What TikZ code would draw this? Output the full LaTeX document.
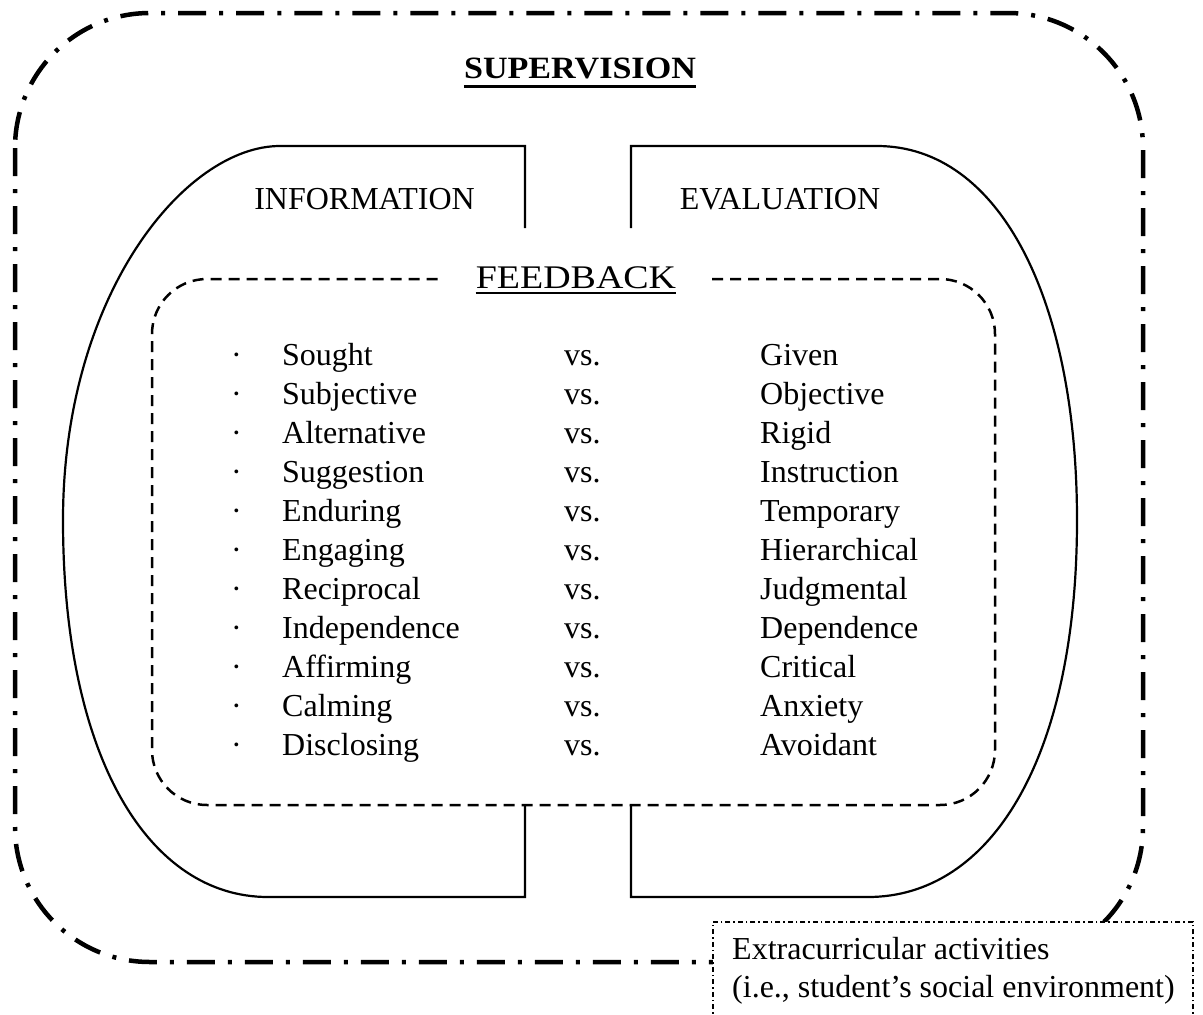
\documentclass[tikz,border=0pt]{standalone}
\usepackage{fontspec}
\setmainfont{Liberation Serif}
\usepackage{graphicx}
\begin{document}
\begin{tikzpicture}[x=1pt,y=-1pt,
  outerline/.style={line width=4.5pt, dash pattern=on 28pt off 13pt on 4pt off 13pt},
  solidline/.style={line width=2.2pt},
  dashline/.style={line width=2.5pt, dash pattern=on 11pt off 7pt},
  boxline/.style={line width=1.6pt, dash pattern=on 5pt off 3pt on 1.5pt off 3pt},
  txt/.style={font=\fontsize{32}{38}\selectfont, inner sep=0pt, anchor=base west},
  ctxt/.style={font=\fontsize{32}{38}\selectfont, inner sep=0pt, anchor=base}]
\useasboundingbox (0,0) rectangle (1203,1015);
\clip (0,0) rectangle (1203,1015);
% outer supervision frame
\draw[outerline, rounded corners=135pt] (15,13) rectangle (1143,962);
% inner solid halves
\draw[solidline] (525,228) -- (525,146) -- (280,146)
  .. controls (185,146) and (63,295) .. (63,520)
  .. controls (63,760) and (150,897) .. (268,897) -- (525,897) -- (525,805);
\draw[solidline] (631,228) -- (631,146) -- (877,146)
  .. controls (1000,146) and (1077,300) .. (1077,520)
  .. controls (1077,760) and (990,897) .. (868,897) -- (631,897) -- (631,805);
% dashed feedback frame
\draw[dashline, rounded corners=55pt] (712,279) -- (995,279) -- (995,805) -- (152,805) -- (152,279) -- (440,279);
% titles
\node[ctxt] (sup) at (580,78) {\scalebox{1.1}[1]{\fontsize{31}{36}\selectfont\bfseries SUPERVISION}};
\draw[line width=3pt] ([yshift=-8pt]sup.base west) -- ([yshift=-8pt]sup.base east);
\node[ctxt] (info) at (364.5,209) {INFORMATION};
\node[ctxt] (eval) at (780,209) {EVALUATION};
\node[ctxt] (fb) at (576,288) {\scalebox{1.15}[1]{\fontsize{33}{38}\selectfont FEEDBACK}};
\draw[line width=1.8pt] ([yshift=-5pt]fb.base west) -- ([yshift=-5pt]fb.base east);
% rows
\foreach \l/\r [count=\i from 0] in {Sought/Given, Subjective/Objective, Alternative/Rigid, Suggestion/Instruction, Enduring/Temporary, Engaging/Hierarchical, Reciprocal/Judgmental, Independence/Dependence, Affirming/Critical, Calming/Anxiety, Disclosing/Avoidant}{
  \node[txt] (b\i) at (231,365+39*\i) {·};
  \node[txt] (l\i) at (282,365+39*\i) {\l};
  \node[txt] (v\i) at (564,365+39*\i) {vs.};
  \node[txt] (r\i) at (760,365+39*\i) {\r};
}
% extracurricular box
\node[boxline, draw, fill=white, anchor=north west, minimum width=480pt, minimum height=120pt, inner sep=0pt] (extra) at (712,921) {};
\node[txt] (ex1) at (732,959) {Extracurricular activities};
\node[txt] (ex2) at (732,997) {(i.e., student’s social environment)};
\end{tikzpicture}
\end{document}
